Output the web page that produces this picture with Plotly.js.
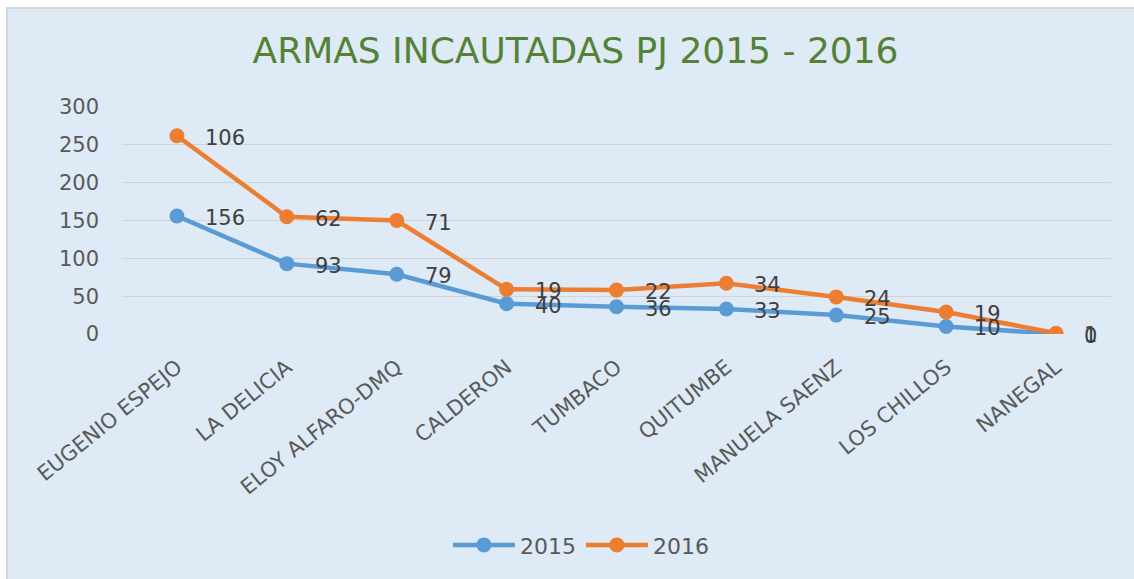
<!DOCTYPE html>
<html>
<head>
<meta charset="utf-8">
<script src="https://cdn.plot.ly/plotly-3.0.1.min.js"></script>
<style>
  html, body { margin: 0; padding: 0; background: #ffffff; width: 1134px; height: 579px; overflow: hidden; }
  #frame { position: absolute; left: 6px; top: 7px; width: 1128px; height: 572px; background: #D6D6D6; }
  #chart { position: absolute; left: 8px; top: 9px; width: 1126px; height: 570px; }
</style>
</head>
<body>
<div id="frame"></div>
<div id="chart"></div>
<script>
const categories = ["EUGENIO ESPEJO", "LA DELICIA", "ELOY ALFARO-DMQ", "CALDERON", "TUMBACO", "QUITUMBE", "MANUELA SAENZ", "LOS CHILLOS", "NANEGAL"];
const values2015 = [156, 93, 79, 40, 36, 33, 25, 10, 0];
const values2016 = [106, 62, 71, 19, 22, 34, 24, 19, 1];
const yTicks = [0, 50, 100, 150, 200, 250, 300];

const stacked2016 = values2016.map((v, i) => v + values2015[i]);

const blue = "#5B9BD5";
const orange = "#ED7D31";
const font = "DejaVu Sans";

const traces = [
  {
    x: categories, y: values2015, name: "2015", type: "scatter", mode: "lines+markers",
    line: { color: blue, width: 4.5 }, marker: { color: blue, size: 15 }, hoverinfo: "skip"
  },
  {
    x: categories, y: stacked2016, name: "2016", type: "scatter", mode: "lines+markers",
    line: { color: orange, width: 4.5 }, marker: { color: orange, size: 15 }, hoverinfo: "skip"
  }
];

const annotations = [];
categories.forEach((c, i) => {
  annotations.push({ x: c, y: values2015[i], text: String(values2015[i]), showarrow: false,
    xanchor: "left", yanchor: "middle", xshift: 26, yshift: -2,
    font: { family: font, size: 21, color: "#404040" } });
  annotations.push({ x: c, y: stacked2016[i], text: String(values2016[i]), showarrow: false,
    xanchor: "left", yanchor: "middle", xshift: 26, yshift: -2,
    font: { family: font, size: 21, color: "#404040" } });
});

const layout = {
  width: 1126, height: 570,
  paper_bgcolor: "#DEEAF6", plot_bgcolor: "#DEEAF6",
  margin: { l: 114, r: 23, t: 98, b: 245, autoexpand: false },
  font: { family: font, color: "#595959", size: 21 },
  title: {
    text: "ARMAS INCAUTADAS PJ 2015 - 2016",
    font: { family: font, size: 36, color: "#548235" },
    xref: "container", yref: "container", x: 0.504, y: 0.928, xanchor: "center", yanchor: "middle"
  },
  xaxis: {
    type: "category", range: [-0.5, categories.length - 0.5],
    showgrid: false, zeroline: false, showline: false, ticks: "", automargin: false,
    tickangle: -39, tickfont: { family: font, size: 21, color: "#595959" },
    ticklabelstandoff: 16, fixedrange: true
  },
  yaxis: {
    range: [0, 300], tickvals: yTicks, ticktext: yTicks.map(String), automargin: false,
    showgrid: true, gridcolor: "#D3D3D3", gridwidth: 1,
    zeroline: false, showline: false, ticks: "",
    tickfont: { family: font, size: 21, color: "#595959" },
    ticklabelstandoff: 22, fixedrange: true
  },
  showlegend: true,
  legend: {
    orientation: "h", x: 0.464, xanchor: "center", y: -0.93, yanchor: "middle",
    itemwidth: 62, tracegroupgap: 0,
    font: { family: font, size: 22, color: "#595959" }, bgcolor: "rgba(0,0,0,0)"
  },
  annotations: annotations
};

Plotly.newPlot("chart", traces, layout, { displayModeBar: false, staticPlot: true });
</script>
</body>
</html>
